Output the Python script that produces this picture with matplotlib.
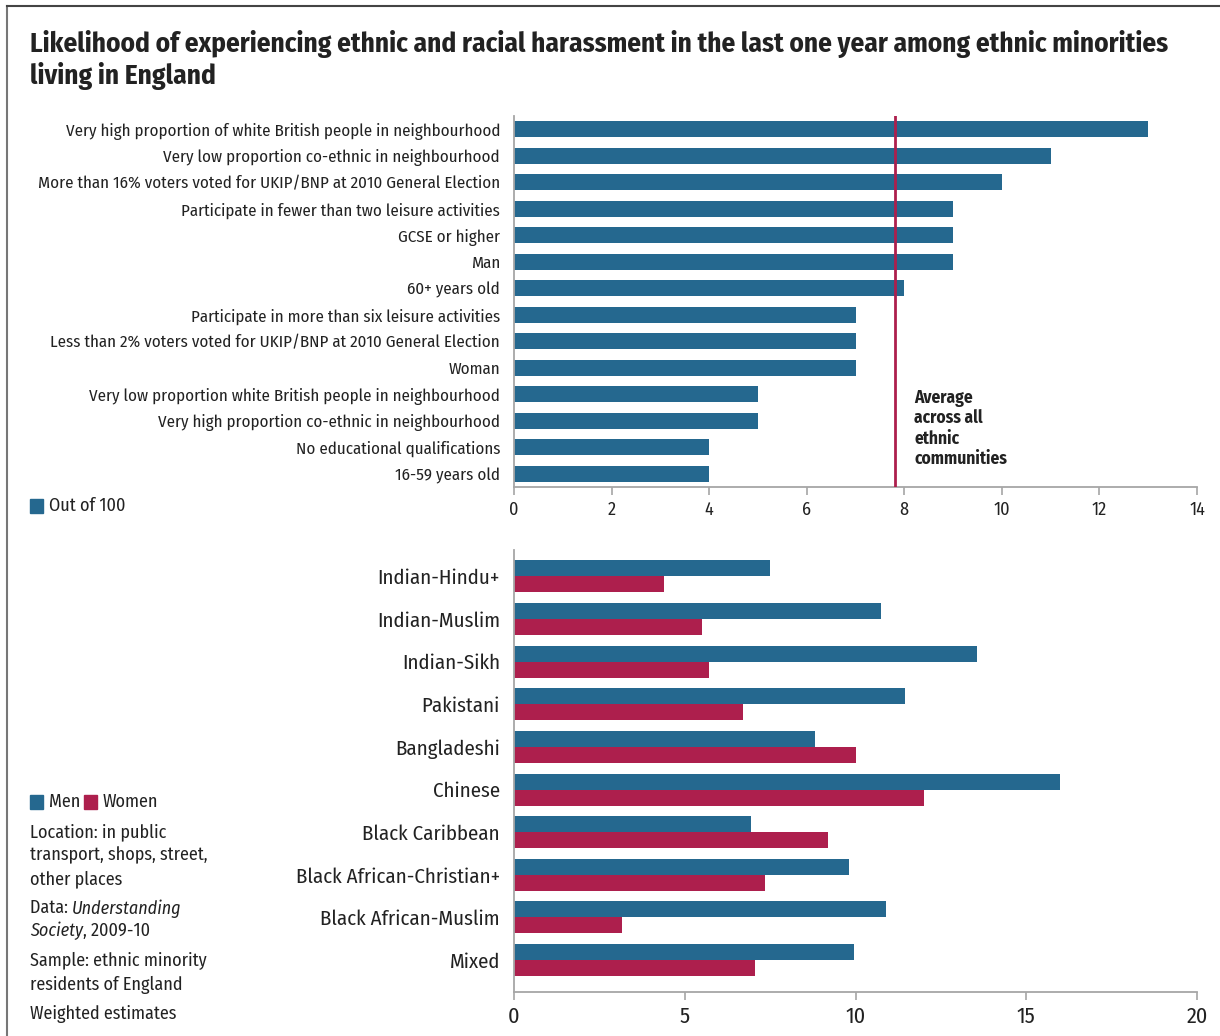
import numpy as np
import matplotlib.pyplot as plt
from matplotlib.lines import Line2D
from matplotlib.patches import Rectangle
from matplotlib.transforms import offset_copy

# 窄体字体, 找不到就用 Roboto
plt.rcParams['font.family'] = ['Fira Sans Condensed', 'Roboto', 'DejaVu Sans']

BLUE = '#25688f'
RED = '#ad1f4d'
GREY = '#a6a6a6'
TEXT = '#222222'

# top chart data
factor_labels = [
    'Very high proportion of white British people in neighbourhood',
    'Very low proportion co-ethnic in neighbourhood',
    'More than 16% voters voted for UKIP/BNP at 2010 General Election',
    'Participate in fewer than two leisure activities',
    'GCSE or higher',
    'Man',
    '60+ years old',
    'Participate in more than six leisure activities',
    'Less than 2% voters voted for UKIP/BNP at 2010 General Election',
    'Woman',
    'Very low proportion white British people in neighbourhood',
    'Very high proportion co-ethnic in neighbourhood',
    'No educational qualifications',
    '16-59 years old',
]
factor_values = [13, 11, 10, 9, 9, 9, 8, 7, 7, 7, 5, 5, 4, 4]
average_all = 7.8

# bottom chart data
groups = ['Indian-Hindu+', 'Indian-Muslim', 'Indian-Sikh', 'Pakistani', 'Bangladeshi',
          'Chinese', 'Black Caribbean', 'Black African-Christian+', 'Black African-Muslim', 'Mixed']
men = [7.5, 10.75, 13.55, 11.45, 8.8, 16.0, 6.95, 9.8, 10.9, 9.95]
women = [4.4, 5.5, 5.7, 6.7, 10.0, 12.0, 9.2, 7.35, 3.15, 7.05]

W, H = 1220, 1036
fig = plt.figure(figsize=(W / 100, H / 100), dpi=100)
renderer = fig.canvas.get_renderer()

def box(l, t, r, b):
    return [l / W, 1 - b / H, (r - l) / W, (b - t) / H]

def style_axis(ax, fs, pad_y):
    for s in ['top', 'right']:
        ax.spines[s].set_visible(False)
    for s in ['left', 'bottom']:
        ax.spines[s].set_color(GREY)
        ax.spines[s].set_linewidth(1.3)
    ax.tick_params(axis='x', colors=GREY, length=6, width=1.2, labelcolor=TEXT, labelsize=fs, pad=4)
    ax.tick_params(axis='y', length=0, labelcolor=TEXT, pad=pad_y)

# 1. 上图
ax1 = fig.add_axes(box(514, 116, 1197, 487))
y1 = np.arange(len(factor_labels))
ax1.barh(y1, factor_values, height=0.6, color=BLUE)
ax1.axvline(average_all, color=RED, linewidth=2, zorder=3)
ax1.set_xlim(0, 14)
ax1.set_xticks(range(0, 15, 2))
ax1.set_ylim(len(factor_labels) - 0.5, -0.5)
ax1.set_yticks(y1)
ax1.set_yticklabels(factor_labels, fontsize=12.2)
style_axis(ax1, 13, 10)
ax1.text(8.2, 9.8, 'Average\nacross all\nethnic\ncommunities', fontsize=12.5,
         fontweight='bold', color=TEXT, va='top', ha='left', linespacing=1.2)

# 2. 下图
ax2 = fig.add_axes(box(514, 550, 1197, 992))
y2 = np.arange(len(groups))
bh = 0.375
ax2.barh(y2 - bh / 2, men, height=bh, color=BLUE)
ax2.barh(y2 + bh / 2, women, height=bh, color=RED)
ax2.set_xlim(0, 20)
ax2.set_xticks(range(0, 21, 5))
ax2.set_ylim(len(groups) - 0.25, -0.62)
ax2.set_yticks(y2)
ax2.set_yticklabels(groups, fontsize=15)
style_axis(ax2, 16, 10)

# 标题
fig.text(30 / W, 1 - 30 / H,
         'Likelihood of experiencing ethnic and racial harassment in the last one year among ethnic minorities\nliving in England',
         fontsize=19.6, fontweight='bold', color=TEXT, va='top', ha='left', linespacing=1.2)

# 图例和注释
def legend_sq(x, y, color):
    fig.patches.append(Rectangle((x / W, 1 - (y + 7) / H), 13 / W, 14 / H,
                                 transform=fig.transFigure, color=color))

def note(x, y, s, style='normal'):
    return fig.text(x / W, 1 - (y - 9) / H, s, fontsize=13, color=TEXT, va='top', ha='left',
                    linespacing=1.42, style=style)

def note_parts(x, y, parts):
    # 一行里混合正体和斜体
    for s, style in parts:
        t = note(x, y, s, style)
        x += t.get_window_extent(renderer).width

legend_sq(30, 506, BLUE)
note(49, 506, 'Out of 100')

legend_sq(30, 802, BLUE)
note(49, 802, 'Men')
legend_sq(84, 802, RED)
note(103, 802, 'Women')

note(30, 832, 'Location: in public\ntransport, shops, street,\nother places')
note_parts(30, 908, [('Data:\u00a0', 'normal'), ('Understanding', 'italic')])
note_parts(30, 931, [('Society', 'italic'), (', 2009-10', 'normal')])
note(30, 961, 'Sample: ethnic minority\nresidents of England')
note(30, 1014, 'Weighted estimates')

# 边框
fig.lines.append(Line2D([7 / W, 7 / W], [0, 1 - 6 / H], transform=fig.transFigure, color='#777777', lw=1.5))
fig.lines.append(Line2D([7 / W, 1], [1 - 6 / H, 1 - 6 / H], transform=fig.transFigure, color='#444444', lw=1.5))

fig.savefig('out.png', dpi=100)
